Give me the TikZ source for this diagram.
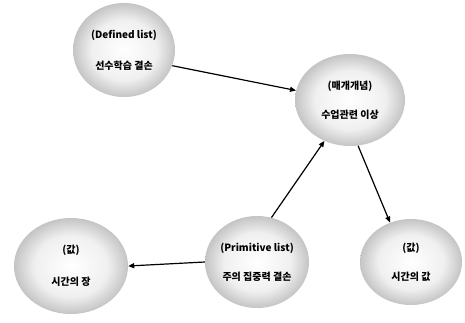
\documentclass[tikz,border=0pt]{standalone}
\usepackage{fontspec}
\setmainfont{Noto Sans CJK KR}[BoldFont={Noto Sans CJK KR Black}]
\usetikzlibrary{shapes.geometric,arrows.meta}
\pgfdeclareradialshading{ball}{\pgfpoint{0bp}{0bp}}{color(0bp)=(white); color(16bp)=(white!94!black); color(34bp)=(black!40); color(46bp)=(black!62); color(50bp)=(black!68); color(70bp)=(black!68)}
\tikzset{
  concept/.style={ellipse, shading=ball, inner sep=0pt, align=center,
    font=\fontsize{10}{14}\selectfont\bfseries},
  link/.style={line width=1.2pt, -{Triangle[length=6pt,width=5pt]}}
}
\begin{document}
\begin{tikzpicture}[x=1pt,y=-1pt]
\useasboundingbox (0,0) rectangle (465,322);
\node[concept, minimum width=102pt, minimum height=94pt] (def) at (124,50) {(Defined list)\\[17pt]선수학습 결손};
\node[concept, minimum width=110pt, minimum height=92pt] (mid) at (350,100) {(매개개념)\\[15pt]수업관련 이상};
\node[concept, minimum width=104pt, minimum height=92pt] (prim) at (257,262) {(Primitive list)\\[15pt]주의 집중력 결손};
\node[concept, minimum width=114pt, minimum height=96pt] (jang) at (71,266) {(값)\\[18pt]시간의 장};
\node[concept, minimum width=102pt, minimum height=86pt] (gap) at (411,262) {(값)\\[15pt]시간의 값};
\draw[link] (def.-18) -- (mid.170);
\draw[link] (prim.72) -- (mid.238);
\draw[link] (mid.-80) -- (gap.118);
\draw[link] (prim.180) -- (jang.0);
\end{tikzpicture}
\end{document}
